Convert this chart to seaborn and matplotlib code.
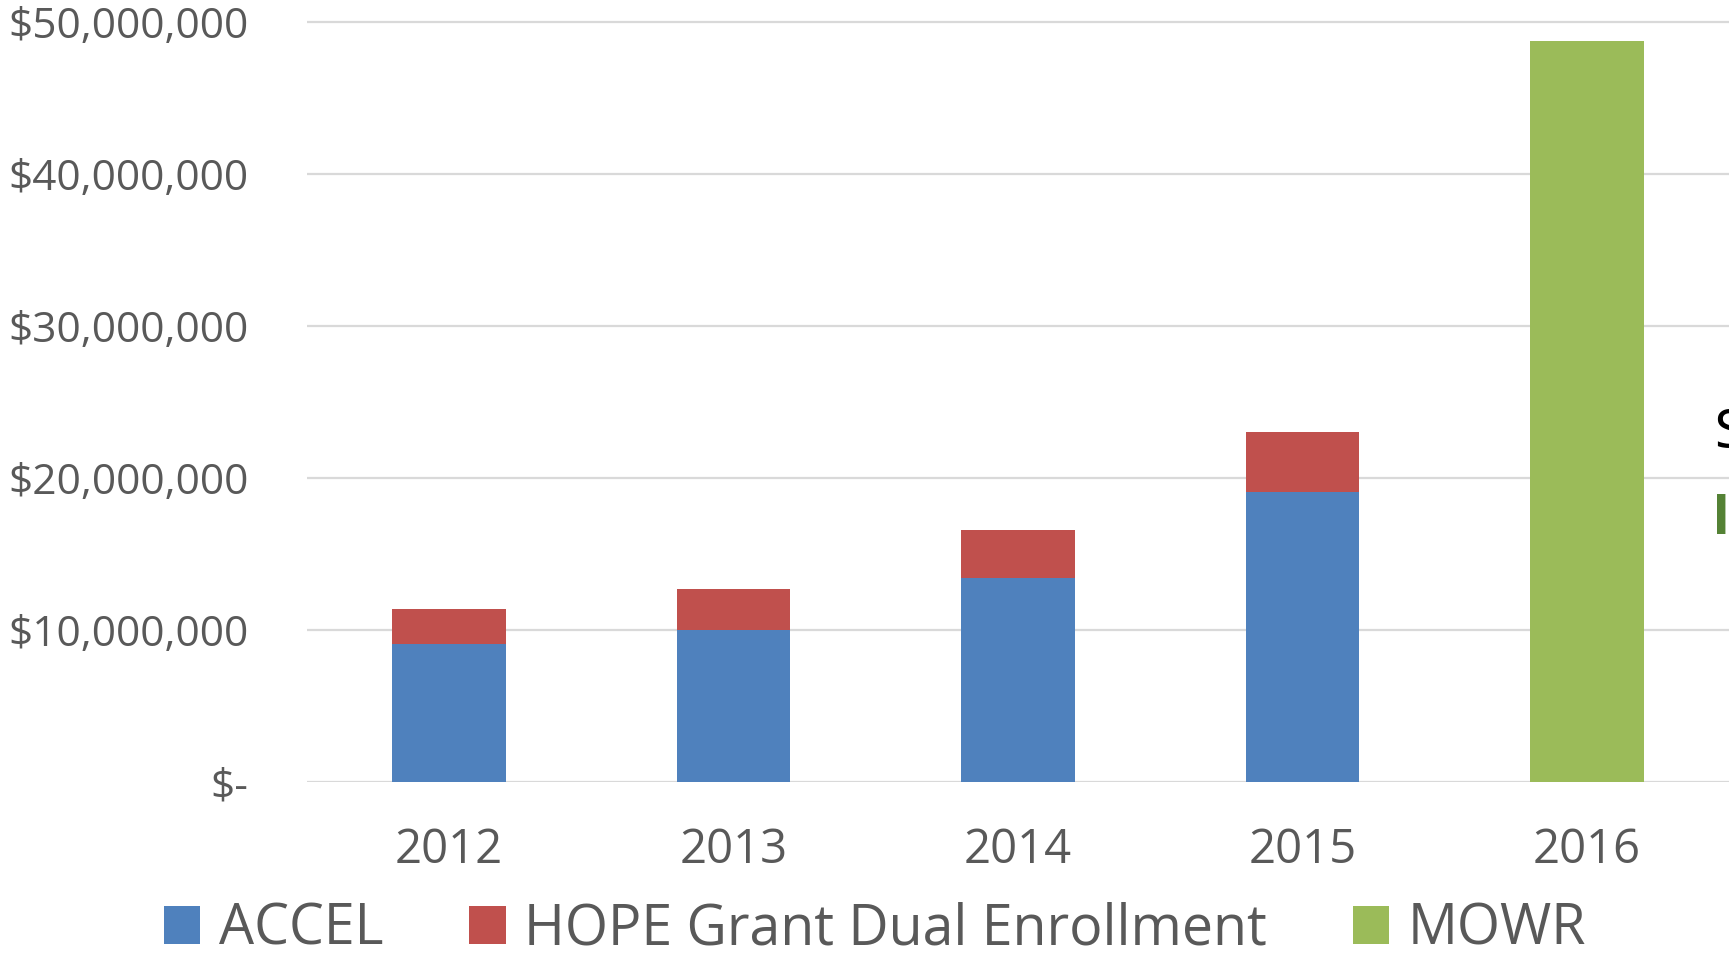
import numpy as np
import seaborn as sns
from matplotlib import pyplot as plt
from matplotlib.patches import Patch

# Data
years = ["2012", "2013", "2014", "2015", "2016"]
accel = [9.08e6, 10.0e6, 13.42e6, 19.08e6, 0]
hope = [2.30e6, 2.70e6, 3.16e6, 3.95e6, 0]
mowr = [0, 0, 0, 0, 48.75e6]
y_ticks = [0, 10e6, 20e6, 30e6, 40e6, 50e6]
y_labels = ["$-", "$10,000,000", "$20,000,000", "$30,000,000", "$40,000,000", "$50,000,000"]
series = ["ACCEL", "HOPE Grant Dual Enrollment", "MOWR"]
colors = ["#4F81BD", "#C0504D", "#9BBB59"]

sns.set_style("white")
plt.rcParams["font.family"] = ["Open Sans", "DejaVu Sans"]
grey = "#595959"

fig = plt.figure(figsize=(17.29, 9.63), dpi=100)
ax = fig.add_axes([307 / 1729, 1 - 782 / 963, 1 - 307 / 1729, (782 - 6.8) / 963])

# Stacked bars: total (red) first, ACCEL on top of it, then MOWR
total = np.add(accel, hope)
sns.barplot(x=years, y=total, color=colors[1], width=0.4, saturation=1, linewidth=0, ax=ax)
sns.barplot(x=years, y=accel, color=colors[0], width=0.4, saturation=1, linewidth=0, ax=ax)
sns.barplot(x=years, y=mowr, color=colors[2], width=0.4, saturation=1, linewidth=0, ax=ax)

ax.set_xlim(-0.5, 4.5)
ax.set_ylim(0, 51e6)
ax.set_yticks(y_ticks)
ax.set_yticklabels(y_labels)
ax.grid(axis="y", color="#D9D9D9", linewidth=1.6)
ax.set_axisbelow(True)
for s in ax.spines.values():
    s.set_visible(False)
ax.tick_params(axis="y", length=0, pad=42, labelsize=30.5, labelcolor=grey)
ax.tick_params(axis="x", length=0, pad=32, labelsize=34, labelcolor=grey)

handles = [Patch(facecolor=c, edgecolor="none") for c in colors]
fig.legend(handles, series, loc="center", bbox_to_anchor=(875 / 1729, 1 - 930 / 963),
           ncol=3, frameon=False, fontsize=40, labelcolor=grey,
           handlelength=0.65, handleheight=0.65, handletextpad=0.33, columnspacing=1.55)

# Cut-off text at the right edge
fig.text(1713 / 1729, 1 - 435 / 963, "$", fontsize=45, color="black", va="center", ha="left")
fig.text(1712 / 1729, 1 - 519 / 963, "I", fontsize=40, color="#548235", fontweight="bold",
         va="center", ha="left")

fig.savefig("out.png", dpi=100, facecolor="white")
